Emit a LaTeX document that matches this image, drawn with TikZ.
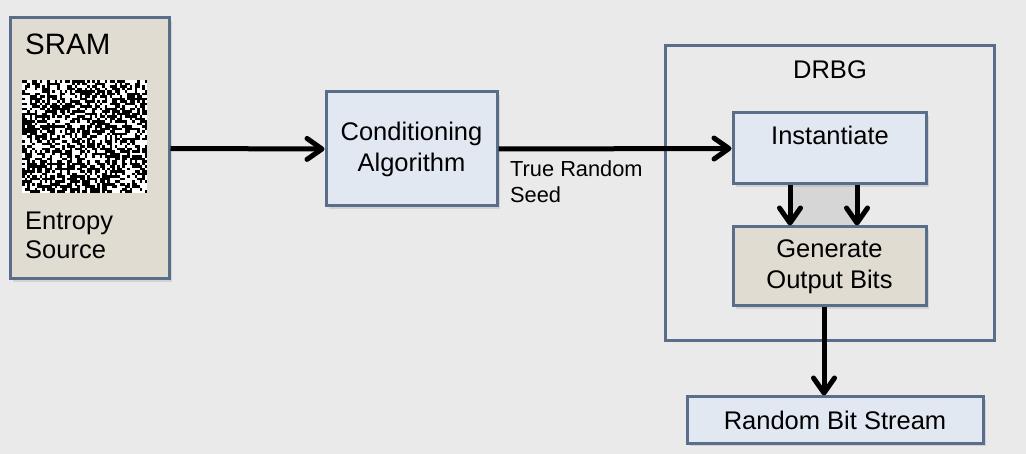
\documentclass[tikz,border=0pt]{standalone}
\usepackage{fontspec}
\setmainfont{Liberation Sans}
\usetikzlibrary{arrows.meta,shadows}
\definecolor{bg}{RGB}{234,234,234}
\definecolor{edgec}{RGB}{90,110,140}
\definecolor{lblue}{RGB}{226,232,242}
\definecolor{beige}{RGB}{224,220,210}
\definecolor{band}{RGB}{214,214,214}
\begin{document}
\begin{tikzpicture}[x=1pt,y=-1pt,
  box/.style={draw=edgec, line width=3pt, inner sep=0pt, align=center,
    drop shadow={shadow xshift=3pt, shadow yshift=-3pt, opacity=0.22},
    font=\fontsize{25.5}{31}\selectfont},
  bluebox/.style={box, fill=lblue},
  beigebox/.style={box, fill=beige},
  txt/.style={inner sep=0pt, font=\fontsize{25.5}{31}\selectfont},
  small/.style={inner sep=0pt, font=\fontsize{21.8}{26}\selectfont},
  arr/.style={line width=5pt, -{Straight Barb[round,length=15pt,width=21pt]}}
]
\useasboundingbox (0,0) rectangle (1026,454);
\fill[bg] (0,0) rectangle (1026,454);

% SRAM entropy source
\node[beigebox, minimum width=159pt, minimum height=261pt] (sram) at (89.5,148.5) {};
\fill[white] (22,80) rectangle (147,193);
\pgfmathsetseed{7}
\foreach \i in {0,...,49}{
  \foreach \j in {0,...,44}{
    \pgfmathrandominteger{\r}{0}{99}
    \ifnum\r<55 \fill[black] (22+\i*2.5,80+\j*2.51) rectangle ++(2.6,2.6); \fi
  }
}
\node[anchor=base west, inner sep=0pt, font=\fontsize{29.5}{35}\selectfont] (sramt) at (25,55) {SRAM};
\node[txt, anchor=base west] (ent1) at (25,230) {Entropy};
\node[txt, anchor=base west] (ent2) at (25,259) {Source};

% Conditioning
\node[bluebox, minimum width=171pt, minimum height=114pt] (cond) at (411.5,149) {Conditioning\\Algorithm};

% DRBG
\node[draw=edgec, line width=3pt, minimum width=329pt, minimum height=295pt] (drbg) at (829.5,193.5) {};
\node[txt, anchor=base] (drbgt) at (830,79) {DRBG};
\fill[band] (790,184) rectangle (857,227);
\node[bluebox, minimum width=193pt, minimum height=71pt] (inst) at (829.5,148.5) {};
\node[txt, anchor=base] (instt) at (830,145) {Instantiate};
\node[beigebox, minimum width=193pt, minimum height=79pt] (gen) at (829.5,266.5) {Generate\\Output Bits};

% Output
\node[bluebox, minimum width=296pt, minimum height=46pt] (rbs) at (835,420) {Random Bit Stream};

% connectors
\draw[arr] (sram.east) -- (cond.west);
\draw[arr] (cond.east) -- (inst.west);
\node[small, anchor=base west] (lab1) at (510,177) {True Random};
\node[small, anchor=base west] (lab2) at (510,203) {Seed};
\draw[arr] (inst.south -| 790,0) -- (gen.north -| 790,0);
\draw[arr] (inst.south -| 857,0) -- (gen.north -| 857,0);
\draw[arr] (gen.south -| 824,0) -- (rbs.north -| 824,0);
\end{tikzpicture}
\end{document}
